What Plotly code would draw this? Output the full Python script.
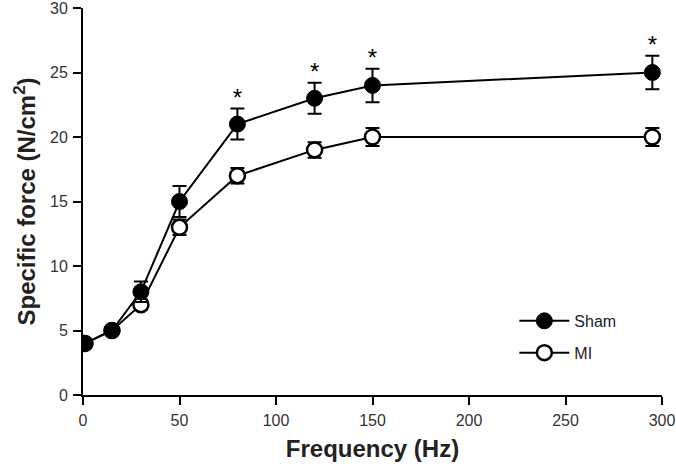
import plotly.graph_objects as go

freq = [1, 15, 30, 50, 80, 120, 150, 295]
sham = [4, 5, 8, 15, 21, 23, 24, 25]
sham_err = [0.3, 0.3, 0.8, 1.2, 1.2, 1.2, 1.3, 1.3]
mi = [4, 5, 7, 13, 17, 19, 20, 20]
mi_err = [0.3, 0.3, 0.4, 0.6, 0.6, 0.6, 0.7, 0.7]
sig_freq = [80, 120, 150, 295]
x_ticks = [0, 50, 100, 150, 200, 250, 300]
y_ticks = [0, 5, 10, 15, 20, 25, 30]

fig = go.Figure()
fig.add_trace(go.Scatter(
    x=freq, y=mi, name="MI", mode="lines+markers",
    line=dict(color="black", width=2),
    marker=dict(size=15, color="white", line=dict(color="black", width=2.5)),
    error_y=dict(type="data", array=mi_err, color="black", thickness=2, width=7),
    legendgroup="mi", legendrank=2,
))
fig.add_trace(go.Scatter(
    x=freq, y=sham, name="Sham", mode="lines+markers",
    line=dict(color="black", width=2),
    marker=dict(size=16, color="black", line=dict(color="black", width=1)),
    error_y=dict(type="data", array=sham_err, color="black", thickness=2, width=7),
    legendgroup="sham", legendrank=1,
))
sig_y = [sham[freq.index(f)] + sham_err[freq.index(f)] + 0.7 for f in sig_freq]
fig.add_trace(go.Scatter(
    x=sig_freq, y=sig_y, mode="text", text=["*"] * len(sig_freq),
    textfont=dict(size=24, color="black", family="Liberation Sans"),
    showlegend=False, hoverinfo="skip",
))

fig.update_layout(
    width=676, height=466,
    margin=dict(l=83, r=14, t=8, b=71, autoexpand=False),
    plot_bgcolor="white", paper_bgcolor="white",
    font=dict(family="Liberation Sans, Arial, sans-serif", color="black"),
    legend=dict(x=0.745, y=0.15, xanchor="left", yanchor="middle",
                font=dict(size=16, color="#222"), bgcolor="rgba(0,0,0,0)",
                traceorder="grouped", tracegroupgap=8, itemwidth=50),
    xaxis=dict(range=[0, 300], tickvals=x_ticks, showline=True, linecolor="black",
               linewidth=2, ticks="outside", ticklen=8, tickwidth=2, tickcolor="black",
               showgrid=False, zeroline=False, tickfont=dict(size=16, color="#333"),
               ticklabelstandoff=2,
               automargin=False, ticklabeloverflow="allow",
               title=dict(text="<b>Frequency (Hz)</b>", font=dict(size=24, color="#222"), standoff=12)),
    yaxis=dict(range=[0, 30], tickvals=y_ticks, showline=True, linecolor="black",
               linewidth=2, ticks="outside", ticklen=8, tickwidth=2, tickcolor="black",
               showgrid=False, zeroline=False, tickfont=dict(size=16, color="#333"),
               ticklabelstandoff=2,
               automargin=False, ticklabeloverflow="allow",
               title=dict(text="<b>Specific force (N/cm<sup>2</sup>)</b>", font=dict(size=24, color="#222"), standoff=8)),
)
fig.write_html("out.html", config={"displayModeBar": False},
               post_script="document.body.style.margin='0';")
